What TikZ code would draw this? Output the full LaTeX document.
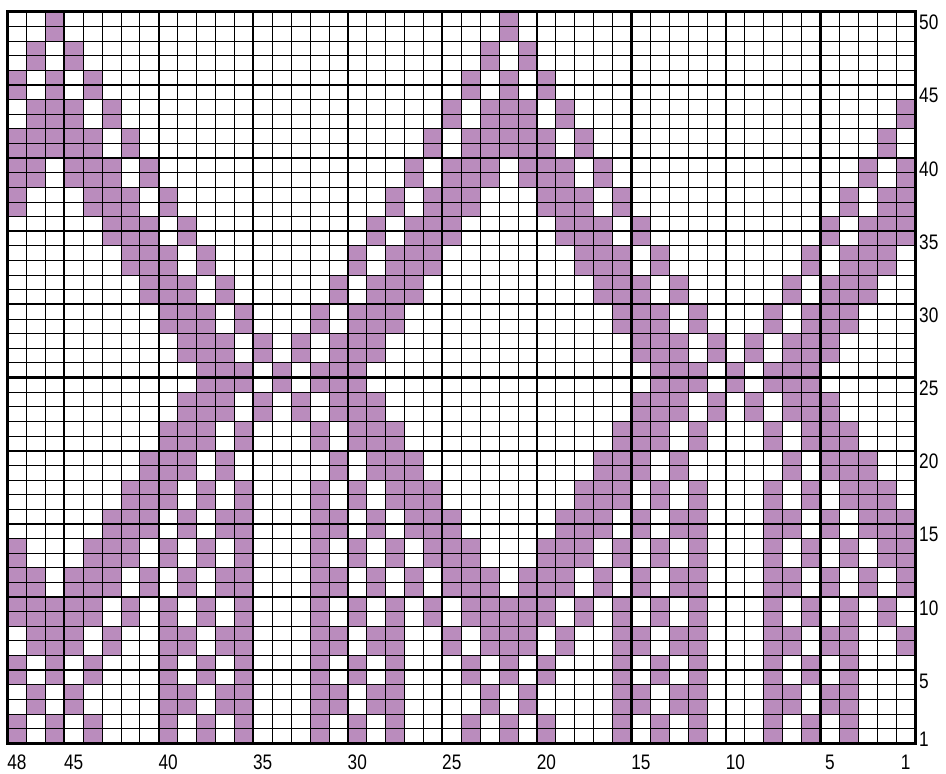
\documentclass[tikz,border=0pt]{standalone}
\usepackage{fontspec}
\setmainfont{Liberation Sans}[FakeStretch=0.82]
\definecolor{knitpurple}{RGB}{186,140,189}
\newcommand\rowpair[2]{\foreach \c in {#2}{\foreach \o in {0,24}{\fill[knitpurple] ({\c+\o-1},{2*#1-2}) rectangle ({\c+\o},{2*#1});}}}
\begin{document}
\begin{tikzpicture}[x=1pt,y=1pt,
  thinline/.style={line width=0.8pt},
  thickline/.style={line width=2.2pt},
  lbl/.style={inner sep=0pt, font=\fontsize{21}{25}\selectfont}]
\useasboundingbox (0,0) rectangle (946,774);
\fill[white] (0,0) rectangle (946,774);
\begin{scope}[shift={(915,30.7)}, x=-18.906pt, y=14.632pt]
\rowpair{25}{22}
\rowpair{24}{21,23}
\rowpair{23}{20,22,24}
\rowpair{22}{1,19,21,22,23}
\rowpair{21}{2,18,20,21,22,23,24}
\rowpair{20}{1,3,17,19,20,21,23,24}
\rowpair{19}{1,2,4,16,18,19,20,24}
\rowpair{18}{1,2,3,5,15,17,18,19}
\rowpair{17}{2,3,4,6,14,16,17,18}
\rowpair{16}{3,4,5,7,13,15,16,17}
\rowpair{15}{4,5,6,8,12,14,15,16}
\rowpair{14}{5,6,7,9,11,13,14,15}
\rowpair{13}{6,7,8,10,12,13,14}
\rowpair{12}{5,6,7,9,11,13,14,15}
\rowpair{11}{4,5,6,8,12,14,15,16}
\rowpair{10}{3,4,5,7,13,15,16,17}
\rowpair{9}{2,3,4,6,8,12,14,16,17,18}
\rowpair{8}{1,2,3,5,7,8,12,13,15,17,18,19}
\rowpair{7}{1,2,4,6,8,12,14,16,18,19,20,24}
\rowpair{6}{1,3,5,7,8,12,13,15,17,19,20,21,23,24}
\rowpair{5}{2,4,6,8,12,14,16,18,20,21,22,23,24}
\rowpair{4}{1,4,5,7,8,12,13,15,16,19,21,22,23}
\rowpair{3}{4,6,8,12,14,16,20,22,24}
\rowpair{2}{4,5,7,8,12,13,15,16,21,23}
\rowpair{1}{4,6,8,12,14,16,20,22,24}
\foreach \i in {0,...,48} \draw[thinline] (\i,0) -- (\i,50);
\foreach \j in {0,...,50} \draw[thinline] (0,\j) -- (48,\j);
\foreach \i in {5,10,15,20,25,30,35,40,45} \draw[thickline] (\i,0) -- (\i,50);
\foreach \j in {5,10,15,20,25,30,35,40,45} \draw[thickline] (0,\j) -- (48,\j);
\draw[line width=3pt] (0,0) rectangle (48,50);
\foreach \r in {50,45,40,35,30,25,20,15,10,5,1}
  \node[lbl, anchor=west] (row\r) at ([xshift=4pt,yshift=-3.5pt]0,\r-0.5) {\r};
\foreach \c in {48,45,40,35,30,25,20,15,10,5,1}
  \node[lbl] (col\c) at ([yshift=-19pt]\c-0.5,0) {\c};
\end{scope}
\end{tikzpicture}
\end{document}
